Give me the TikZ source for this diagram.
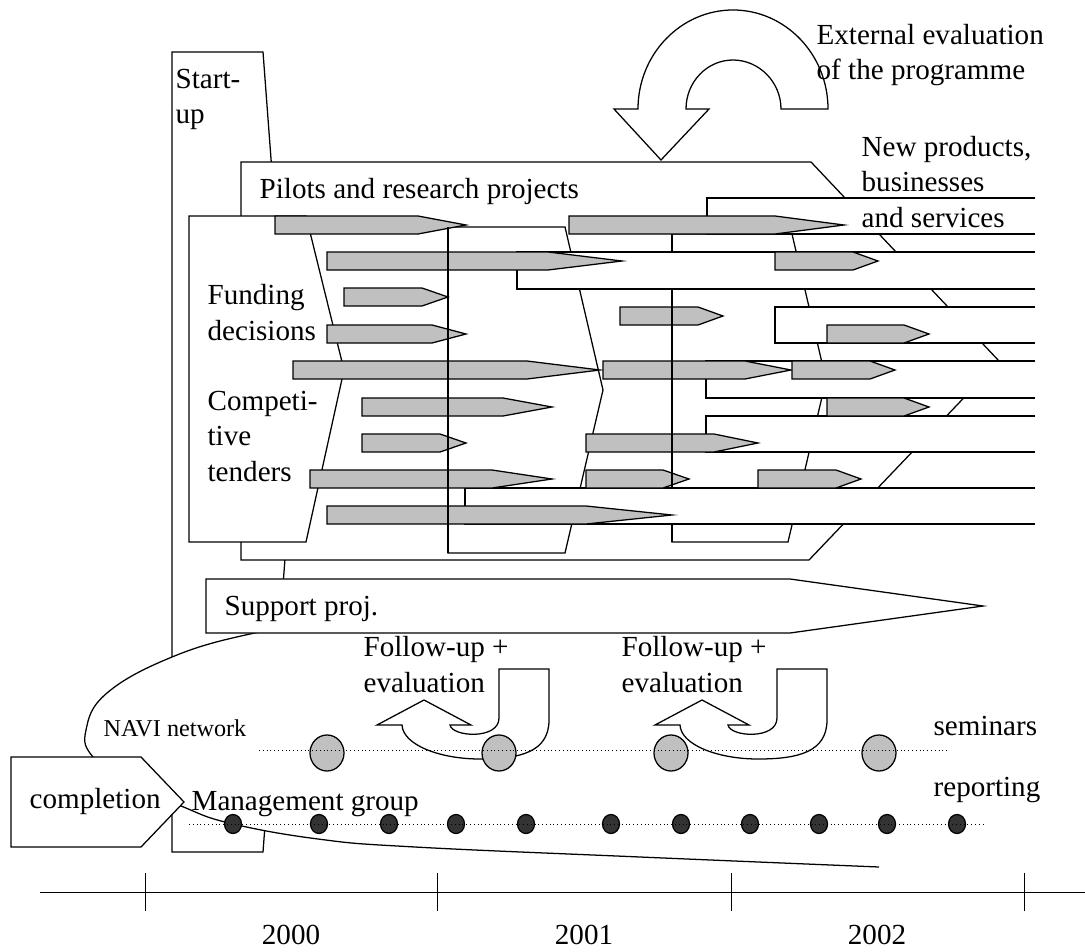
\documentclass[tikz,border=0pt]{standalone}
\usepackage{fontspec}
\setmainfont{Liberation Serif}
\usepackage{xcolor}
\usetikzlibrary{shapes.geometric}
\definecolor{barfill}{HTML}{C0C0C0}
\definecolor{dotfill}{HTML}{333333}

\begin{document}
\begin{tikzpicture}[x=0.025cm, y=-0.025cm, line width=0.9pt, line join=miter,
  box/.style={draw, fill=white},
  bar/.style={draw, fill=barfill},
  lbl/.style={anchor=base west, inner sep=0pt, align=left, font=\fontsize{20.7}{24.9}\selectfont},
  yearlbl/.style={anchor=base, inner sep=0pt, font=\fontsize{20.7}{24.9}\selectfont},
  seminar/.style={draw, fill=barfill, ellipse, inner sep=0pt, minimum width=0.85cm, minimum height=0.9cm},
  meeting/.style={draw, fill=dotfill, ellipse, inner sep=0pt, minimum width=0.425cm, minimum height=0.475cm}]
\useasboundingbox (0,0) rectangle (1085,952);
% start-up phase
\draw[box] (172,52) -- (263,52) -- (293,452) -- (263,852) -- (172,852) -- cycle;
% NAVI network area
\fill[white] plot[smooth, tension=0.7] coordinates {(879,867) (640,857) (415,847) (318,839) (229,823) (181,806) (130,784) (93,757) (86,730) (107,693) (172,657) (250,634) (330,622)} -- (900,622) -- cycle;
\draw plot[smooth, tension=0.7] coordinates {(879,867) (640,857) (415,847) (318,839) (229,823) (181,806) (130,784) (93,757) (86,730) (107,693) (172,657) (250,634) (330,622)};
% pilots, funding and the two yearly rounds
\draw[box] (241,162) -- (811,162) -- (999,361) -- (809,560) -- (241,560) -- cycle;
\draw[box] (189,216) -- (306,216) -- (344,370) -- (306,542) -- (189,542) -- cycle;
\draw[box] (448,227) -- (565,227) -- (603,390) -- (565,553) -- (448,553) -- cycle;
\draw[box] (672,234) -- (792,234) -- (826,380) -- (788,542) -- (672,542) -- cycle;
% outcomes running out to the right
\foreach \xl/\yt/\yb in {707/198/234, 517/252/289, 775/307/343, 706/361/398, 706/416/452, 465/488/524}{
  \fill[white] (\xl,\yt) rectangle (1035,\yb);
  \draw (1035,\yt) -- (\xl,\yt) -- (\xl,\yb) -- (1035,\yb);
}
% projects
\foreach \xa/\xs/\xt/\yt in {275/418/466/216, 569/775/844/216, 327/548/622/252, 775/853/878/252,
    344/422/448/288, 620/698/723/307, 327/432/466/325, 827/904/929/325, 293/527/600/361,
    603/745/791/361, 792/870/895/361, 362/503/552/398, 827/904/929/398, 362/440/466/434,
    586/714/758/434, 310/492/552/470, 586/663/689/470, 758/836/861/470, 327/586/672/506}
  \draw[bar] (\xa,\yt) -- (\xs,\yt) -- (\xt,\yt+9) -- (\xs,\yt+18) -- (\xa,\yt+18) -- cycle;
\draw (448,227) -- (448,553);
\draw (672,234) -- (672,252) (672,289) -- (672,488) (672,524) -- (672,542);
% support projects
\draw[box] (206,579) -- (790,579) -- (983,606) -- (790,633) -- (206,633) -- cycle;
% external evaluation loop
\draw[box] (781,109) -- (828,109) .. controls (828,54) and (785,10) .. (733,10)
  .. controls (681,10) and (638,54) .. (638,109) -- (614,109) -- (661,160) -- (709,109)
  -- (686,109) .. controls (686,82) and (707,60) .. (733,60) .. controls (759,60) and (781,82) .. (781,109) -- cycle;
% follow-up loops
\foreach \dx in {0,278}
  \draw[box] (499+\dx,669) -- (549+\dx,669) -- (549+\dx,720)
    .. controls (549+\dx,752) and (520+\dx,759) .. (480+\dx,759)
    .. controls (440+\dx,759) and (403+\dx,745) .. (402+\dx,725)
    -- (377+\dx,725) -- (424+\dx,700) -- (471+\dx,725) -- (450+\dx,725)
    .. controls (452+\dx,737) and (499+\dx,740) .. (499+\dx,718) -- cycle;
% seminars and reporting
\node[seminar] (sem1) at (327,753) {};
\node[seminar] (sem2) at (499,753) {};
\node[seminar] (sem3) at (671,753) {};
\node[seminar] (sem4) at (879,753) {};
\foreach \x [count=\i] in {233,319,389,456,526,611,681,750,819,887,957}
  \node[meeting] (rep\i) at (\x,824) {};
\coordinate (semL) at (259,750);
\coordinate (semR) at (947,750);
\coordinate (repL) at (189,824);
\coordinate (repR) at (983,824);
\draw[dotted, line width=0.7pt] (semL) -- (semR);
\draw[dotted, line width=0.7pt] (repL) -- (repR);
% completion
\draw[box] (11,757) -- (141,757) -- (184,802) -- (141,847) -- (11,847) -- cycle;
% labels (base = last line)
\node[lbl] (startup) at (175,124) {Start-\\up};
\node[lbl] (pilots) at (259,199) {Pilots and research projects};
\node[lbl] (exteval) at (816,80) {External evaluation\\of the programme};
\node[lbl] (newprod) at (861,227) {New products,\\businesses\\and services};
\node[lbl] (funding) at (207,340) {Funding\\decisions};
\node[lbl] (tenders) at (207,481) {Competi-\\tive\\tenders};
\node[lbl] (support) at (224,615) {Support proj.};
\node[lbl] (follow1) at (363,692) {Follow-up +\\evaluation};
\node[lbl] (follow2) at (621,692) {Follow-up +\\evaluation};
\node[lbl, font=\fontsize{17.2}{20}\selectfont] (navi) at (103,736) {NAVI network};
\node[lbl] (seminars) at (933,735) {seminars};
\node[lbl] (reporting) at (933,796) {reporting};
\node[lbl] (mgmt) at (191,810) {Management group};
\node[lbl] (completion) at (29,808) {completion};
% time axis
\draw[line width=0.7pt] (40,892) -- (1085,892);
\foreach \x in {145,437,731,1024}
  \draw[line width=0.7pt] (\x,873) -- (\x,911);
\node[yearlbl] (y2000) at (291,944) {2000};
\node[yearlbl] (y2001) at (584,944) {2001};
\node[yearlbl] (y2002) at (877,944) {2002};
\end{tikzpicture}
\end{document}
